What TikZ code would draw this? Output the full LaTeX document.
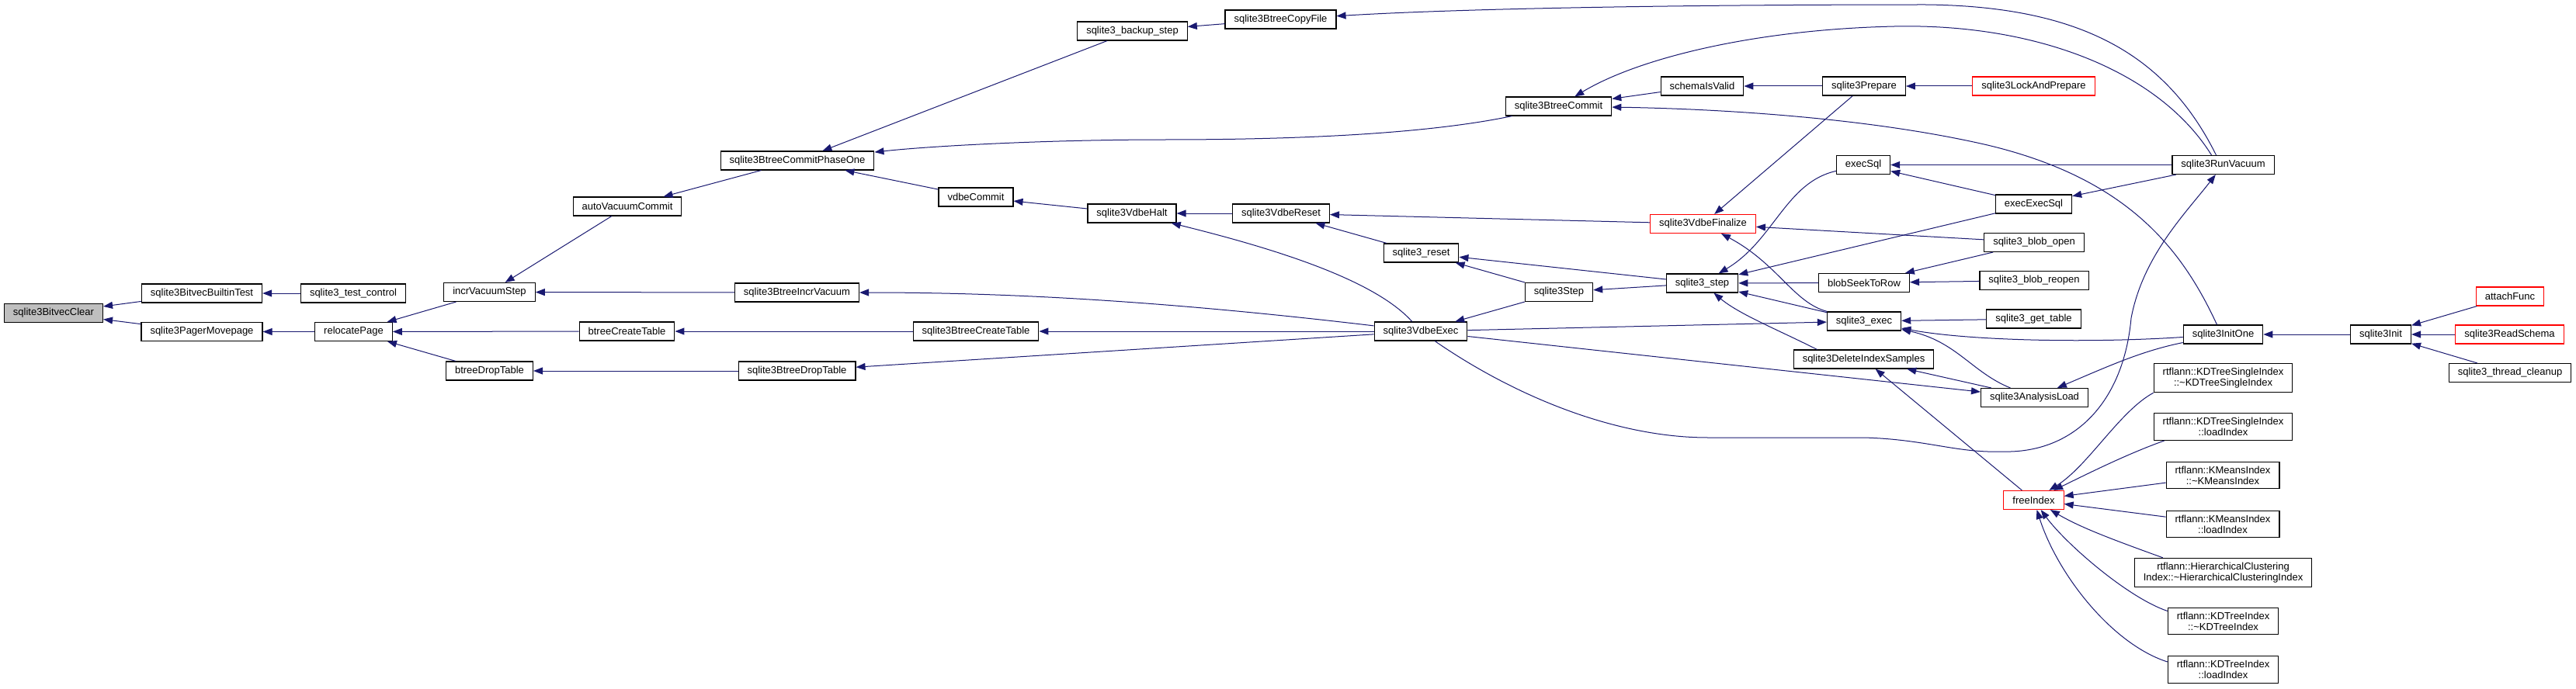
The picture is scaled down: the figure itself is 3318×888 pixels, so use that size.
\documentclass[tikz,border=0pt]{standalone}
\usepackage{fontspec}
\setmainfont{Liberation Sans}
\usepackage{xcolor}
\usepackage{tikz}
\usetikzlibrary{arrows.meta, positioning}
\definecolor{EdgeBlue}{RGB}{25, 25, 112}
\definecolor{RootGray}{RGB}{191, 191, 191}

\begin{document}
\begin{tikzpicture}[x=1pt, y=-1pt, font=\fontsize{13}{14.3}\selectfont,
    fn/.style={draw=black, line width=1.1pt, fill=white, inner xsep=11.5pt, inner ysep=5.5pt, minimum height=24pt, align=center},
    fnred/.style={fn, draw=red},
    fnroot/.style={fn, fill=RootGray},
    call/.style={draw=EdgeBlue, line width=1pt, -{Triangle[length=12pt, width=9pt]}}]
    \useasboundingbox (0,0) rectangle (3318,888);

    % 左侧节点
    \node[fnroot] (bitvecClear) at (69,403.5) {sqlite3BitvecClear};
    \node[fn] (builtinTest) at (260,378) {sqlite3BitvecBuiltinTest};
    \node[fn] (pagerMovepage) at (260,427.5) {sqlite3PagerMovepage};
    \node[fn] (testControl) at (455,378) {sqlite3\_test\_control};
    \node[fn] (relocatePage) at (455.5,427.5) {relocatePage};
    \node[fn] (incrVacuumStep) at (630.5,376.5) {incrVacuumStep};
    \node[fn] (btreeDropTable) at (630.5,478) {btreeDropTable};
    \node[fn] (autoVacuumCommit) at (808,266) {autoVacuumCommit};
    \node[fn] (btreeCreateTable) at (807.5,427) {btreeCreateTable};
    \node[fn] (commitPhaseOne) at (1027,207) {sqlite3BtreeCommitPhaseOne};
    \node[fn] (btreeIncrVacuum) at (1026.5,377) {sqlite3BtreeIncrVacuum};
    \node[fn] (sqlBtreeDropTable) at (1026.5,478) {sqlite3BtreeDropTable};
    \node[fn] (vdbeCommit) at (1257,254) {vdbeCommit};
    \node[fn] (sqlBtreeCreateTable) at (1257,427) {sqlite3BtreeCreateTable};

    % 中间节点
    \node[fn] (backupStep) at (1458.5,40) {sqlite3\_backup\_step};
    \node[fn] (vdbeHalt) at (1458,275) {sqlite3VdbeHalt};
    \node[fn] (copyFile) at (1649.5,25) {sqlite3BtreeCopyFile};
    \node[fn] (vdbeReset) at (1650,275) {sqlite3VdbeReset};
    \node[fn] (sqlReset) at (1830.5,326) {sqlite3\_reset};
    \node[fn] (vdbeExec) at (1830,427) {sqlite3VdbeExec};
    \node[fn] (btreeCommit) at (2007.5,137) {sqlite3BtreeCommit};
    \node[fn] (sqlStep) at (2008,376.5) {sqlite3Step};
    \node[fn] (schemaValid) at (2192.5,111) {schemaIsValid};
    \node[fnred] (vdbeFinalize) at (2193.5,288.5) {sqlite3VdbeFinalize};
    \node[fn] (stepLower) at (2192.5,365) {sqlite3\_step};
    \node[fn] (prepare) at (2401,111) {sqlite3Prepare};
    \node[fn] (execSql) at (2400,212.5) {execSql};
    \node[fn] (blobSeek) at (2401,364.5) {blobSeekToRow};
    \node[fn] (sqlExec) at (2401,414) {sqlite3\_exec};
    \node[fn] (deleteSamples) at (2400.5,463) {sqlite3DeleteIndexSamples};

    % 右侧节点
    \node[fnred] (lockPrepare) at (2619.5,111) {sqlite3LockAndPrepare};
    \node[fn] (execExecSql) at (2619.5,263) {execExecSql};
    \node[fn] (blobOpen) at (2620,312.5) {sqlite3\_blob\_open};
    \node[fn] (blobReopen) at (2620,361.5) {sqlite3\_blob\_reopen};
    \node[fn] (getTable) at (2619.5,411) {sqlite3\_get\_table};
    \node[fn] (analysisLoad) at (2620.5,512.5) {sqlite3AnalysisLoad};
    \node[fnred] (freeIndex) at (2619.5,644.5) {freeIndex};
    \node[fn] (runVacuum) at (2863.5,212.5) {sqlite3RunVacuum};
    \node[fn] (initOne) at (2863.5,431) {sqlite3InitOne};
    \node[fn] (kdSingleDtor) at (2863.5,487) {rtflann::KDTreeSingleIndex\\::\textasciitilde KDTreeSingleIndex};
    \node[fn] (kdSingleLoad) at (2863.5,550) {rtflann::KDTreeSingleIndex\\::loadIndex};
    \node[fn] (kmeansDtor) at (2863,612.5) {rtflann::KMeansIndex\\::\textasciitilde KMeansIndex};
    \node[fn] (kmeansLoad) at (2863,675.5) {rtflann::KMeansIndex\\::loadIndex};
    \node[fn] (hierDtor) at (2863.5,738) {rtflann::HierarchicalClustering\\Index::\textasciitilde HierarchicalClusteringIndex};
    \node[fn] (kdDtor) at (2863.5,800.5) {rtflann::KDTreeIndex\\::\textasciitilde KDTreeIndex};
    \node[fn] (kdLoad) at (2863.5,863) {rtflann::KDTreeIndex\\::loadIndex};
    \node[fn] (sqlInit) at (3066.5,431) {sqlite3Init};
    \node[fnred] (attachFunc) at (3233,382) {attachFunc};
    \node[fnred] (readSchema) at (3232.5,431) {sqlite3ReadSchema};
    \node[fn] (threadCleanup) at (3233,480.5) {sqlite3\_thread\_cleanup};

    % 左侧调用
    \draw[call] (builtinTest) -- (bitvecClear);
    \draw[call] (pagerMovepage) -- (bitvecClear);
    \draw[call] (testControl) -- (builtinTest);
    \draw[call] (relocatePage) -- (pagerMovepage);
    \draw[call] (incrVacuumStep) -- (relocatePage);
    \draw[call] (btreeCreateTable) -- (relocatePage);
    \draw[call] (btreeDropTable) -- (relocatePage);
    \draw[call] (autoVacuumCommit) -- (incrVacuumStep);
    \draw[call] (btreeIncrVacuum) -- (incrVacuumStep);
    \draw[call] (commitPhaseOne) -- (autoVacuumCommit);
    \draw[call] (sqlBtreeDropTable) -- (btreeDropTable);
    \draw[call] (sqlBtreeCreateTable) -- (btreeCreateTable);
    \draw[call] (backupStep) -- (commitPhaseOne);
    \draw[call] (vdbeCommit) -- (commitPhaseOne);
    \draw[call] (btreeCommit) .. controls (1850,170) and (1700,180) .. (1500,180) .. controls (1350,180) and (1200,188) .. (commitPhaseOne);
    \draw[call] (vdbeHalt) -- (vdbeCommit);
    \draw[call] (copyFile) -- (backupStep);

    % 中间调用
    \draw[call] (vdbeExec) .. controls (1500,388) and (1300,377) .. (btreeIncrVacuum);
    \draw[call] (vdbeExec) -- (sqlBtreeCreateTable);
    \draw[call] (vdbeExec) -- (sqlBtreeDropTable);
    \draw[call] (vdbeReset) -- (vdbeHalt);
    \draw[call] (vdbeExec) .. controls (1770,360) and (1640,320) .. (vdbeHalt);
    \draw[call] (vdbeFinalize) -- (vdbeReset);
    \draw[call] (sqlReset) -- (vdbeReset);
    \draw[call] (stepLower) -- (sqlReset);
    \draw[call] (sqlStep) -- (sqlReset);
    \draw[call] (stepLower) -- (sqlStep);
    \draw[call] (sqlStep) -- (vdbeExec);
    \draw[call] (schemaValid) -- (btreeCommit);
    \draw[call] (prepare) -- (schemaValid);
    \draw[call] (lockPrepare) -- (prepare);
    \draw[call] (prepare) -- (vdbeFinalize);
    \draw[call] (blobOpen) -- (vdbeFinalize);
    \draw[call] (sqlExec) .. controls (2310,390) and (2290,340) .. (vdbeFinalize);
    \draw[call] (execSql) .. controls (2300,235) and (2285,310) .. (stepLower);
    \draw[call] (execExecSql) -- (stepLower);
    \draw[call] (blobSeek) -- (stepLower);
    \draw[call] (sqlExec) -- (stepLower);
    \draw[call] ([xshift=-60pt]deleteSamples.north) .. controls (2290,425) and (2240,405) .. (stepLower);

    % 右侧调用
    \draw[call] (runVacuum) -- (execSql);
    \draw[call] (execExecSql) -- (execSql);
    \draw[call] (runVacuum) -- (execExecSql);
    \draw[call] (blobOpen) -- (blobSeek);
    \draw[call] (blobReopen) -- (blobSeek);
    \draw[call] (getTable) -- (sqlExec);
    \draw[call] (vdbeExec) -- (sqlExec);
    \draw[call] (vdbeExec) -- (analysisLoad);
    \draw[call] (initOne) .. controls (2700,442) and (2540,440) .. (sqlExec);
    \draw[call] (analysisLoad) .. controls (2540,480) and (2520,440) .. (sqlExec);
    \draw[call] (initOne) .. controls (2760,452) and (2720,470) .. (analysisLoad);
    \draw[call] (analysisLoad) -- (deleteSamples);
    \draw[call] (freeIndex) -- (deleteSamples);
    \draw[call] (sqlInit) -- (initOne);
    \draw[call] (attachFunc) -- (sqlInit);
    \draw[call] (readSchema) -- (sqlInit);
    \draw[call] (threadCleanup) -- (sqlInit);

    % rtflann -> freeIndex
    \draw[call] (kdSingleDtor.south west) .. controls (2730,530) and (2690,600) .. (freeIndex);
    \draw[call] ([xshift=14pt]kdSingleLoad.south west) .. controls (2740,585) and (2690,610) .. (freeIndex);
    \draw[call] (kmeansDtor) -- (freeIndex);
    \draw[call] (kmeansLoad) -- (freeIndex);
    \draw[call] ([xshift=37pt]hierDtor.north west) .. controls (2720,695) and (2680,680) .. (freeIndex);
    \draw[call] ([yshift=13pt]kdDtor.west) .. controls (2740,770) and (2660,700) .. (freeIndex);
    \draw[call] ([yshift=10pt]kdLoad.west) .. controls (2720,830) and (2650,740) .. (freeIndex);

    % 长曲线
    \draw[call] ([xshift=-9pt]runVacuum.north) .. controls (2790,70) and (2680,8) .. (2480,6) .. controls (2200,6) and (1900,10) .. (copyFile);
    \draw[call] ([xshift=-15pt]runVacuum.north) .. controls (2780,90) and (2620,30) .. (2440,34) .. controls (2260,38) and (2110,75) .. (btreeCommit);
    \draw[call] ([xshift=-8pt]initOne.north) .. controls (2810,320) and (2740,230) .. (2560,187) .. controls (2400,150) and (2200,140) .. (btreeCommit);
    \draw[call] (vdbeExec) .. controls (1950,510) and (2080,564) .. (2200,564) -- (2400,564) .. controls (2480,566) and (2520,584) .. (2578,582) .. controls (2670,585) and (2735,520) .. (2745,410) .. controls (2760,330) and (2815,275) .. (runVacuum);
\end{tikzpicture}
\end{document}
